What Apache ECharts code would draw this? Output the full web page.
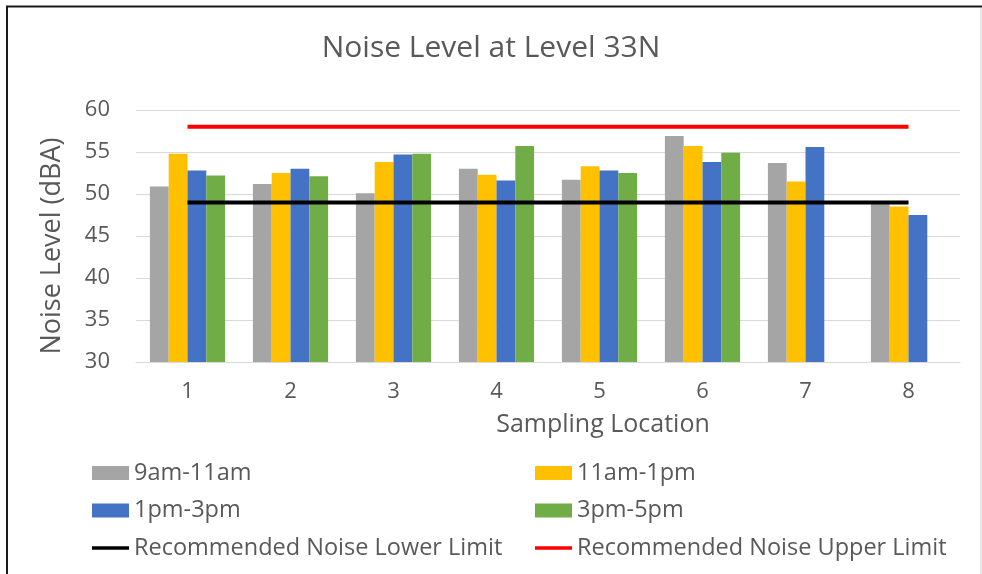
<!DOCTYPE html>
<html>
<head>
<meta charset="utf-8">
<script src="https://cdn.jsdelivr.net/npm/echarts@6/dist/echarts.min.js"></script>
<style>
html,body{margin:0;padding:0;background:#fff;}
#c{width:982px;height:574px;}
</style>
</head>
<body>
<div id="c"></div>
<script>
const categories = ['1','2','3','4','5','6','7','8'];
const s9to11 = [50.9, 51.2, 50.1, 53.0, 51.7, 56.9, 53.7, 49.0];
const s11to1 = [54.8, 52.5, 53.8, 52.3, 53.3, 55.7, 51.5, 48.5];
const s1to3 = [52.8, 53.0, 54.7, 51.6, 52.8, 53.8, 55.6, 47.5];
const s3to5 = [52.2, 52.1, 54.8, 55.7, 52.5, 54.9, null, null];
const lowerLimit = [49, 49, 49, 49, 49, 49, 49, 49];
const upperLimit = [58, 58, 58, 58, 58, 58, 58, 58];
const seriesNames = ['9am-11am','11am-1pm','1pm-3pm','3pm-5pm','Recommended Noise Lower Limit','Recommended Noise Upper Limit'];

const FONT = 'Open Sans';
const TXT = '#595959';
const chart = echarts.init(document.getElementById('c'), null, {renderer:'canvas'});

function bar(name, data, color){
  return {name, type:'bar', data, barGap:'0%', barCategoryGap:'27%',
    itemStyle:{color}, emphasis:{disabled:true}};
}
function line(name, data, color){
  return {name, type:'line', data, symbol:'none', z:5,
    lineStyle:{color, width:4}, itemStyle:{color}, emphasis:{disabled:true}};
}
const legendText = {fontFamily:FONT, fontSize:23.5, color:TXT, lineHeight:24};
const lineIcon = 'path://M0,0h37v3.5h-37z';

chart.setOption({
  animation:false,
  backgroundColor:'#fff',
  title:{text:'Noise Level at Level 33N', left:'center', top:28,
    textStyle:{fontFamily:FONT, fontSize:30, fontWeight:'normal', color:TXT}},
  grid:{left:136, right:22, top:110, bottom:212},
  legend:[
    {orient:'vertical', left:92, top:461, padding:0, itemWidth:37, itemHeight:14, itemGap:13.5,
     symbolKeepAspect:true, textStyle:legendText, selectedMode:false,
     data:[{name:seriesNames[0], icon:'rect'},{name:seriesNames[2], icon:'rect'},{name:seriesNames[4], icon:lineIcon}]},
    {orient:'vertical', left:535, top:461, padding:0, itemWidth:37, itemHeight:14, itemGap:13.5,
     symbolKeepAspect:true, textStyle:legendText, selectedMode:false,
     data:[{name:seriesNames[1], icon:'rect'},{name:seriesNames[3], icon:'rect'},{name:seriesNames[5], icon:lineIcon}]}
  ],
  xAxis:{type:'category', data:categories,
    axisLine:{lineStyle:{color:'#D9D9D9', width:1}}, axisTick:{show:false},
    axisLabel:{fontFamily:FONT, fontSize:22, color:TXT, margin:19},
    name:'Sampling Location', nameLocation:'middle', nameGap:50,
    nameTextStyle:{fontFamily:FONT, fontSize:25, color:TXT, padding:[0,0,0,110]}},
  yAxis:{type:'value', min:30, max:60, interval:5,
    axisLine:{show:false}, axisTick:{show:false},
    splitLine:{lineStyle:{color:'#D9D9D9', width:1}},
    axisLabel:{fontFamily:FONT, fontSize:22, color:TXT, margin:26},
    name:'Noise Level (dBA)', nameLocation:'middle', nameGap:70,
    nameTextStyle:{fontFamily:FONT, fontSize:27, color:TXT, padding:[0,0,0,-20]}},
  series:[
    bar(seriesNames[0], s9to11, '#A5A5A5'),
    bar(seriesNames[1], s11to1, '#FFC000'),
    bar(seriesNames[2], s1to3, '#4472C4'),
    bar(seriesNames[3], s3to5, '#70AD47'),
    line(seriesNames[4], lowerLimit, '#000000'),
    line(seriesNames[5], upperLimit, '#FF0000')
  ],
  graphic:[
    {type:'line', shape:{x1:6, y1:6.5, x2:982, y2:6.5}, style:{stroke:'#1a1a1a', lineWidth:2}, silent:true},
    {type:'line', shape:{x1:7, y1:6, x2:7, y2:574}, style:{stroke:'#1a1a1a', lineWidth:2}, silent:true},
    {type:'line', shape:{x1:981, y1:8, x2:981, y2:574}, style:{stroke:'#d0d0d0', lineWidth:1}, silent:true}
  ]
});
</script>
</body>
</html>
